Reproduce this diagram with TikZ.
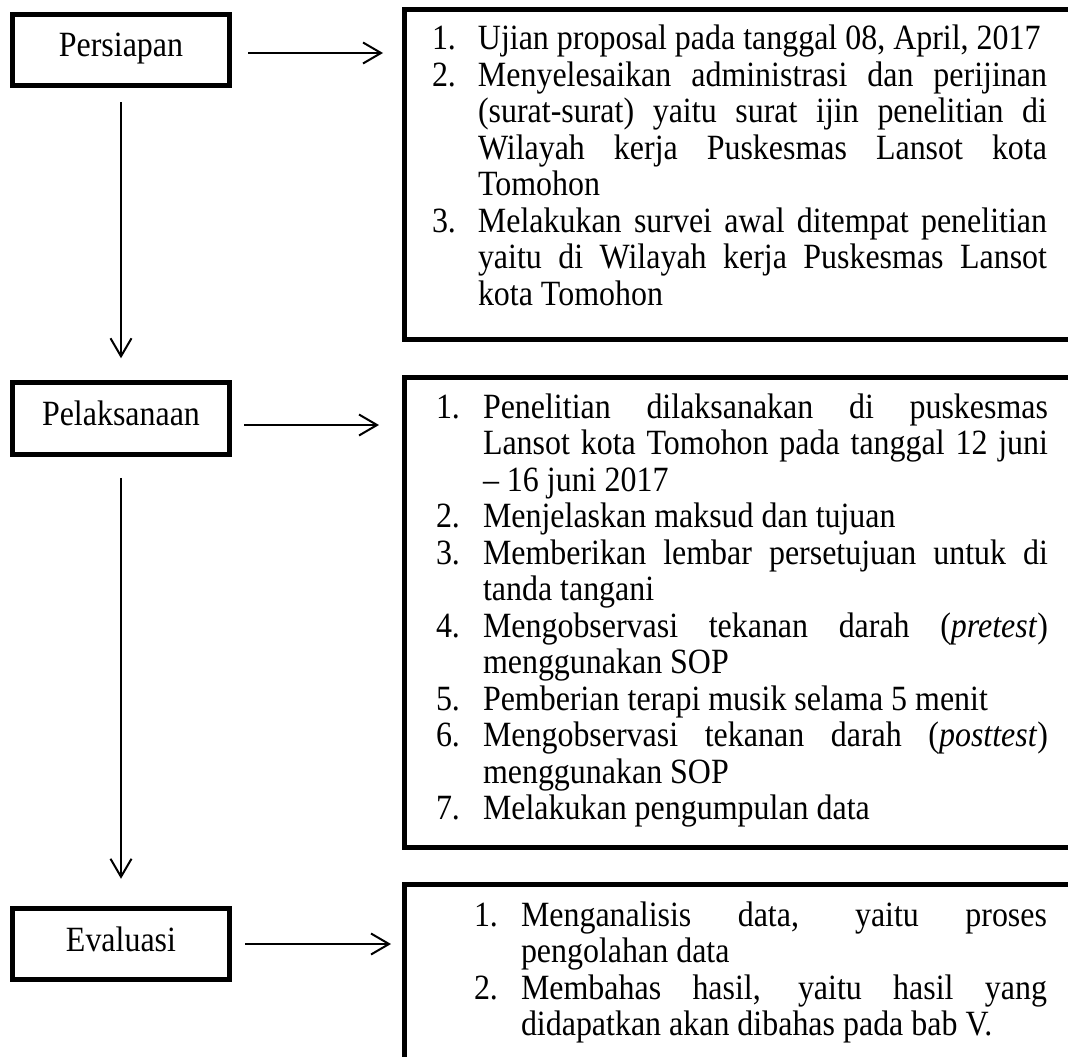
\documentclass[tikz,border=0pt]{standalone}
\usepackage{fontspec}
\setmainfont{Liberation Serif}[FakeStretch=0.9]
\usepackage{array}
\usetikzlibrary{arrows.meta}
\newcommand\jline[1]{\makebox[\linewidth][s]{#1}}
\begin{document}
\begin{tikzpicture}[x=1pt,y=-1pt,
  lbox/.style={draw, line width=4.8pt, minimum width=217pt, minimum height=71.5pt,
    inner sep=0pt, outer sep=0pt, text height=24pt, text depth=10pt,
    font=\fontsize{35.5}{36.5}\selectfont},
  rbox/.style={draw, line width=4.8pt, inner sep=0pt, outer sep=0pt, anchor=north west},
  arr/.style={line width=2pt, -{Straight Barb[length=18pt,width=21pt,line width=2pt]}},
  txt/.style={anchor=base west, inner sep=0pt, outer sep=0pt,
    font=\fontsize{35.5}{36.5}\selectfont}
]
\useasboundingbox (0,0) rectangle (1068,1057);
\clip (0,0) rectangle (1068,1057);

% left boxes
\node[lbox] (p1) at (121,50) {Persiapan};
\node[lbox] (p2) at (121,418.5) {Pelaksanaan};
\node[lbox] (p3) at (121,944) {Evaluasi};

% right boxes
\node[rbox, minimum width=720pt, minimum height=330pt] (b1) at (404.5,9.5) {};
\node[rbox, minimum width=720pt, minimum height=470pt] (b2) at (404.5,377.5) {};
\node[rbox, minimum width=720pt, minimum height=230pt] (b3) at (404.5,884.5) {};

% box texts
\node[txt] (t1) at (432,50) {\begin{tabular}[t]{@{}p{46pt}@{}p{569pt}@{}}
1. & Ujian proposal pada tanggal 08, April, 2017\\
2. & \jline{Menyelesaikan administrasi dan perijinan}\\
   & \jline{(surat-surat) yaitu surat ijin penelitian di}\\
   & \jline{Wilayah kerja Puskesmas Lansot kota}\\
   & Tomohon\\
3. & \jline{Melakukan survei awal ditempat penelitian}\\
   & \jline{yaitu di Wilayah kerja Puskesmas Lansot}\\
   & kota Tomohon
\end{tabular}};

\node[txt] (t2) at (436,418) {\begin{tabular}[t]{@{}p{47pt}@{}p{565pt}@{}}
1. & \jline{Penelitian dilaksanakan di puskesmas}\\
   & \jline{Lansot kota Tomohon pada tanggal 12 juni}\\
   & – 16 juni 2017\\
2. & Menjelaskan maksud dan tujuan\\
3. & \jline{Memberikan lembar persetujuan untuk di}\\
   & tanda tangani\\
4. & \jline{Mengobservasi tekanan darah (\textit{pretest})}\\
   & menggunakan SOP\\
5. & Pemberian terapi musik selama 5 menit\\
6. & \jline{Mengobservasi tekanan darah (\textit{posttest})}\\
   & menggunakan SOP\\
7. & Melakukan pengumpulan data
\end{tabular}};

\node[txt] (t3) at (474,926) {\begin{tabular}[t]{@{}p{47pt}@{}p{526pt}@{}}
1. & \jline{Menganalisis data, yaitu proses}\\
   & pengolahan data\\
2. & \jline{Membahas hasil, yaitu hasil yang}\\
   & didapatkan akan dibahas pada bab V.
\end{tabular}};

% horizontal arrows
\coordinate (a1) at ([yshift=-3pt]p1.east);
\coordinate (a2) at ([yshift=-6.5pt]p2.east);
\coordinate (a3) at (p3.east);
\draw[arr, shorten <=18.5pt, shorten >=21.5pt] (a1) -- (a1 -| b1.west);
\draw[arr, shorten <=14.5pt, shorten >=25.5pt] (a2) -- (a2 -| b2.west);
\draw[arr, shorten <=15.5pt, shorten >=13.5pt] (a3) -- (a3 -| b3.west);

% vertical arrows
\draw[arr, shorten <=16.5pt, shorten >=24.5pt] (p1.south) -- (p2.north);
\draw[arr, shorten <=23.5pt, shorten >=29.5pt] (p2.south) -- (p3.north);
\end{tikzpicture}
\end{document}
